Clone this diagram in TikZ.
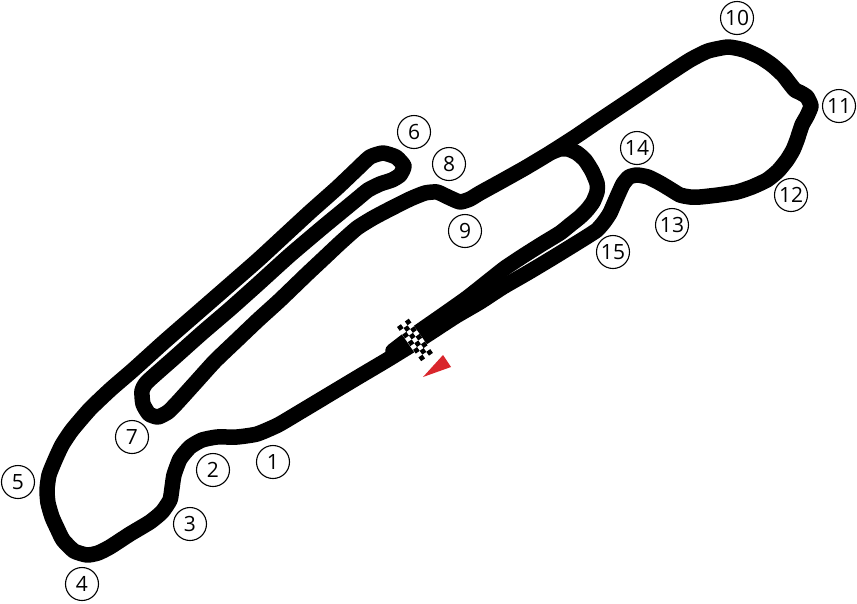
\documentclass[tikz,border=0pt]{standalone}
\usepackage{fontspec}
\setmainfont{Open Sans}
\definecolor{flagred}{RGB}{217,38,44}
\tikzset{
  track/.style={draw=black,line width=15.5pt,line join=round,line cap=round},
  turn/.style={circle,draw=black,line width=1.1pt,fill=white,minimum size=33pt,inner sep=0pt,font=\fontsize{21}{21}\selectfont}
}
\begin{document}
\begin{tikzpicture}[x=1pt,y=-1pt]
\useasboundingbox (0,0) rectangle (857,603);
% main circuit
\draw[track] plot[smooth,tension=0.33] coordinates {
 (413,344) (387,360) (360,376) (330,394) (300,412) (278,425) (257,434) (237,437) (217,437) (202,440) (190,447) (180,459) (174,475) (172,488) (170,500) (162,512) (150,522) (130,534) (110,547) (98,553) (87,555) (74,551) (63,540) (57,528) (52,517) (48,503) (47,490) (49,475) (55,460) (62,445) (72,430) (90,409) (111,389) (133,370) (164,342) (195,315) (226,288) (258,260) (284,236) (310,212) (337,188) (357,169) (370,157) (383,153) (396,157) (404,166) (400,175) (392,180) (380,184) (368,190) (357,199) (340,213) (323,227) (290,255) (258,284) (230,309) (202,333) (174,358) (147,382) (142,391) (143,404) (149,414) (158,417) (168,412) (177,403) (196,382) (215,361) (237,340) (258,320) (280,300) (307,274) (323,259) (340,243) (357,228) (373,218) (390,209) (410,199) (425,193) (437,192) (448,197) (460,202) (470,199) (480,193) (500,182) (525,168) (550,153) (575,137) (600,120) (633,98) (667,75) (690,60) (708,51) (728,47) (744,50) (760,57) (772,65) (783,75) (790,84) (795,90) (801,93) (807,97) (811,106) (807,116) (802,125) (797,140) (793,150) (787,160) (778,171) (767,180) (752,187) (737,192) (718,195) (700,197) (690,197) (680,195) (670,189) (660,183) (648,177) (637,175) (629,177) (623,184) (617,197) (610,213) (604,222) (597,230) (588,236) (580,241) (554,257) (529,272) (503,287) (480,302) (456,316) (433,331) (413,344)};
% pit branch
\draw[track] plot[smooth,tension=0.33] coordinates {
 (552,152) (560,149) (568,149) (577,153) (585,160) (592,171) (597,183) (597,192) (593,202) (587,210) (580,217) (570,225) (560,233) (542,244) (523,256) (505,268) (486,283) (467,298) (443,315) (420,331) (406,341) (393,351)};
% start/finish flag
\pgfmathsetmacro{\ux}{0.577}\pgfmathsetmacro{\uy}{0.817}
\fill[white] (397,327) -- (409,319) -- (433,353) -- (421,362) -- cycle;
\foreach \i in {0,...,8}{\foreach \j in {0,1,2}{
  \pgfmathtruncatemacro{\p}{mod(\i+\j,2)}
  \ifnum\p=0
    \pgfmathsetmacro{\ax}{397+4.65*\i*\ux+4.8*\j*\uy}
    \pgfmathsetmacro{\ay}{327+4.65*\i*\uy-4.8*\j*\ux}
    \fill[black] (\ax,\ay) -- ++(4.65*\ux,4.65*\uy) -- ++(4.8*\uy,-4.8*\ux) -- ++(-4.65*\ux,-4.65*\uy) -- cycle;
  \fi
}}
% start direction
\fill[flagred] (423,377) -- (443,355) -- (451,367) -- cycle;
% turn numbers
\node[turn] (t1) at (273,462) {1};
\node[turn] (t2) at (213,470) {2};
\node[turn] (t3) at (190,524) {3};
\node[turn] (t4) at (82,584) {4};
\node[turn] (t5) at (18,482) {5};
\node[turn] (t6) at (414,132) {6};
\node[turn] (t7) at (132,437) {7};
\node[turn] (t8) at (449,164) {8};
\node[turn] (t9) at (465,231) {9};
\node[turn] (t10) at (737,18) {10};
\node[turn] (t11) at (839,106) {11};
\node[turn] (t12) at (791,195) {12};
\node[turn] (t13) at (672,225) {13};
\node[turn] (t14) at (637,148) {14};
\node[turn] (t15) at (613,252) {15};
\end{tikzpicture}
\end{document}
